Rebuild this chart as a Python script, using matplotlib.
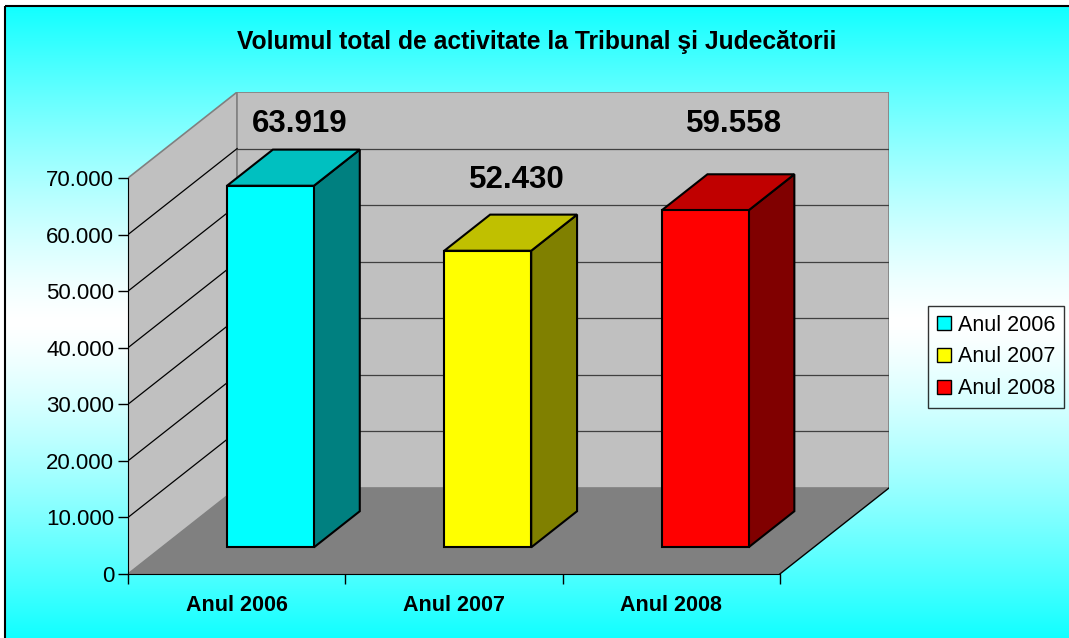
import numpy as np
from matplotlib import pyplot as plt
from matplotlib.patches import Polygon, Patch, Rectangle
from matplotlib.ticker import FuncFormatter

plt.rcParams['font.family'] = ['Liberation Sans', 'DejaVu Sans']

# data
categories = ['Anul 2006', 'Anul 2007', 'Anul 2008']
values = [63919, 52430, 59558]
value_labels = ['63.919', '52.430', '59.558']
yticks = [0, 10000, 20000, 30000, 40000, 50000, 60000, 70000]
title = 'Volumul total de activitate la Tribunal şi Judecătorii'

# style
front_cols = ['#00FFFF', '#FFFF00', '#FF0000']
top_cols = ['#00C0C0', '#C0C000', '#C00000']
side_cols = ['#008080', '#808000', '#800000']
W, H = 1069, 638
YMAX = 70000
DX = 109 / 217.0            # depth shift in category units
DY = 86 / 396.0 * YMAX      # depth shift in value units
D0, D1 = 0.31, 0.73         # bar depth range
HALF = 0.2                  # half bar width
LABEL_NUDGE = [400, 2000, 4700]

fig = plt.figure(figsize=(W / 100, H / 100), dpi=100)

# background gradient with border
bg = fig.add_axes([0, 0, 1, 1])
t = np.linspace(0, 1, 256)
g = np.clip(np.abs(t - 0.5) / 0.5, 0, 1) ** 1.3
grad = np.zeros((256, 1, 3))
grad[:, 0, 0] = 1 - g * 0.93
grad[:, 0, 1] = 1
grad[:, 0, 2] = 1
bg.imshow(grad, extent=[5, W, H, 6], aspect='auto')
bg.add_patch(Rectangle((5, 6), W, H, fill=False, ec='black', lw=1.5))
bg.set_xlim(0, W)
bg.set_ylim(H, 0)
bg.axis('off')

ax = fig.add_axes([128 / W, (H - 574) / H, (889 - 128) / W, (574 - 92) / H])
ax.set_facecolor('none')
ax.set_xlim(0, 3 + DX)
ax.set_ylim(0, YMAX + DY)

def P(x, v, d):
    return (x + d * DX, v + d * DY)

# walls and floor
ax.add_patch(Polygon([P(0, 0, 0), P(0, YMAX, 0), P(0, YMAX, 1), P(0, 0, 1)],
                     fc='#C0C0C0', ec='#808080', lw=1.2, zorder=1))
ax.add_patch(Polygon([P(0, 0, 1), P(3, 0, 1), P(3, YMAX, 1), P(0, YMAX, 1)],
                     fc='#C0C0C0', ec='#808080', lw=1.2, zorder=1))
ax.add_patch(Polygon([P(0, 0, 0), P(3, 0, 0), P(3, 0, 1), P(0, 0, 1)],
                     fc='#808080', ec='none', zorder=1.2))
for v in yticks[1:-1]:
    ax.plot(*zip(P(0, v, 0), P(0, v, 1)), color='black', lw=0.9, zorder=1.1)
    ax.plot(*zip(P(0, v, 1), P(3, v, 1)), color='#404040', lw=0.9, zorder=1.1)
ax.plot(*zip(P(3, 0, 0), P(3, 0, 1)), color='black', lw=1.0, zorder=1.3)

# bars
for i, v in enumerate(values):
    l, r = i + 0.5 - HALF, i + 0.5 + HALF
    ax.add_patch(Polygon([P(r, 0, D0), P(r, v, D0), P(r, v, D1), P(r, 0, D1)],
                         fc=side_cols[i], ec='black', lw=1.5, zorder=3))
    ax.add_patch(Polygon([P(l, v, D0), P(r, v, D0), P(r, v, D1), P(l, v, D1)],
                         fc=top_cols[i], ec='black', lw=1.5, zorder=3))
    ax.add_patch(Polygon([P(l, 0, D0), P(r, 0, D0), P(r, v, D0), P(l, v, D0)],
                         fc=front_cols[i], ec='black', lw=1.5, zorder=4))
    lx, ly = P(i + 0.5, v + LABEL_NUDGE[i], 1)
    ax.text(lx - 0.42 * DX, ly, value_labels[i], ha='center', va='center',
            fontsize=22.5, fontweight='bold', zorder=5)

# axes
ax.set_yticks(yticks)
ax.yaxis.set_major_formatter(FuncFormatter(lambda v, p: f'{v:,.0f}'.replace(',', '.')))
ax.tick_params(axis='y', direction='out', length=7, width=1, labelsize=16, pad=3)
ax.set_xticks([0, 1, 2, 3])
ax.set_xticklabels([])
ax.set_xticks([0.5, 1.5, 2.5], minor=True)
ax.set_xticklabels(categories, minor=True, fontsize=15.5, fontweight='bold')
ax.tick_params(axis='x', which='major', direction='out', length=7, width=1)
ax.tick_params(axis='x', which='minor', length=0, pad=15)
for s in ['top', 'right']:
    ax.spines[s].set_visible(False)
ax.spines['left'].set_bounds(0, YMAX)
ax.spines['bottom'].set_bounds(0, 3)
ax.spines['left'].set_zorder(2)
ax.spines['bottom'].set_zorder(2)

fig.text(537 / W, 1 - 42 / H, title, ha='center', va='center',
         fontsize=17.7, fontweight='bold')

handles = [Patch(fc=c, ec='black', lw=1) for c in front_cols]
leg = fig.legend(handles, categories, loc='center',
                 bbox_to_anchor=(996 / W, 1 - 357 / H), bbox_transform=fig.transFigure,
                 fontsize=15.5, frameon=True, fancybox=False, edgecolor='black',
                 facecolor='none', handlelength=0.65, handleheight=0.65,
                 handletextpad=0.35, labelspacing=0.5, borderpad=0.4,
                 borderaxespad=0)
leg.get_frame().set_linewidth(1.0)

fig.savefig('out.png', dpi=100)
